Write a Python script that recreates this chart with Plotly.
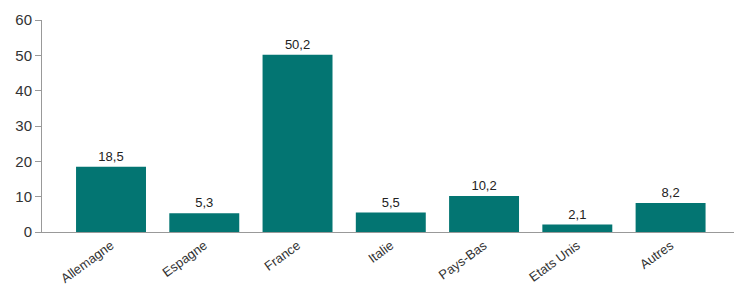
import plotly.graph_objects as go

categories = ["Allemagne", "Espagne", "France", "Italie", "Pays-Bas", "Etats Unis", "Autres"]
values = [18.5, 5.3, 50.2, 5.5, 10.2, 2.1, 8.2]
value_labels = ["18,5", "5,3", "50,2", "5,5", "10,2", "2,1", "8,2"]
y_ticks = [0, 10, 20, 30, 40, 50, 60]

fig = go.Figure(go.Bar(
    x=categories, y=values, text=value_labels, textposition="outside",
    textfont=dict(family="Liberation Sans, Arial", size=13, color="#222"),
    marker=dict(color="#037572", line=dict(width=0)),
    width=0.75, cliponaxis=False,
))
fig.update_layout(
    width=734, height=285,
    margin=dict(l=42, r=0, t=20, b=53),
    plot_bgcolor="white", paper_bgcolor="white",
    showlegend=False,
    font=dict(family="Liberation Sans, Arial", size=13, color="#333"),
)
fig.update_xaxes(
    range=[-0.74, 6.68], showline=True, linecolor="#999", linewidth=1,
    ticks="", tickangle=-36, tickfont=dict(size=13, color="#333"),
    showgrid=False, automargin=False,
)
fig.update_yaxes(
    range=[0, 60], tickvals=y_ticks, showline=True, linecolor="#999", linewidth=1,
    ticks="outside", ticklen=6, tickcolor="#999", showgrid=False, zeroline=False,
    tickfont=dict(size=15, color="#333"), automargin=False,
)
fig.write_html(
    "out.html",
    config={"displayModeBar": False},
    post_script="document.body.style.margin='0';document.body.style.overflow='hidden';",
)
